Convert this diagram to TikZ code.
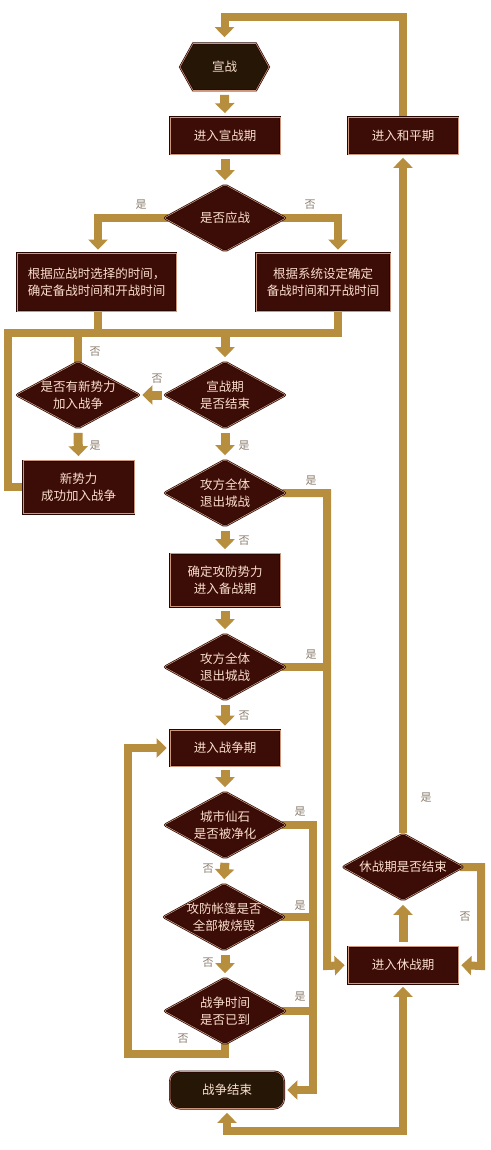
\documentclass[tikz,border=0pt]{standalone}
\usepackage{fontspec}
\newfontfamily\cjk{Noto Sans CJK SC}
\usetikzlibrary{arrows.meta,shapes.geometric,shapes.symbols,backgrounds}
\definecolor{gold}{RGB}{183,142,62}
\definecolor{boxfill}{RGB}{60,12,6}
\definecolor{startfill}{RGB}{38,22,6}
\definecolor{edgelight}{RGB}{205,150,125}
\definecolor{edgedark}{RGB}{40,6,2}
\definecolor{textc}{RGB}{250,222,205}
\definecolor{yesno}{RGB}{140,125,110}
\tikzset{
	box/.style={draw=edgedark, double=edgelight, double distance=0.6pt, line width=0.7pt, fill=boxfill, text=textc, font=\cjk\fontsize{12.5}{17}\selectfont, align=center, inner sep=0pt},
	proc/.style={box, rectangle, minimum width=110pt, minimum height=37pt},
	ask/.style={box, diamond, aspect=1.8, inner sep=-6pt, minimum width=122pt, minimum height=67pt, rounded corners=2pt},
	hexa/.style={box, fill=startfill, signal, signal to=east and west, signal pointer angle=122, minimum width=89pt, minimum height=47pt},
	term/.style={box, fill=startfill, rectangle, rounded corners=10pt, minimum width=114pt, minimum height=37pt},
	lab/.style={text=yesno, font=\cjk\fontsize{11}{11}\selectfont, inner sep=0pt},
	wire/.style={draw=gold, line width=8pt, line cap=rect},
	arrowed/.style={-{Triangle[width=19pt,length=10pt]}},
	jump/.style={wire, arrowed, line width=9pt, line cap=butt, shorten <=4pt, shorten >=4pt}
}
\begin{document}
\begin{tikzpicture}[x=1pt,y=-1pt]
			%%%%% START %%%%%
			\useasboundingbox (0,0) rectangle (490,1150);
			
			% war declaration stage
			\node[hexa] (xz) at (224.5,67) {宣战};
			\node[proc] (jxz) at (225,136) {进入宣战期};
			\node[ask] (ifyz) at (225,218) {是否应战};
			\node[proc, minimum width=159pt, minimum height=58pt] (boxa) at (96.5,282) {根据应战时选择的时间，\\确定备战时间和开战时间};
			\node[proc, minimum width=134pt, minimum height=58pt] (boxb) at (323,282) {根据系统设定确定\\备战时间和开战时间};
			\node[ask] (ifend) at (225,395) {宣战期\\是否结束};
			\node[ask, minimum width=124pt] (ifnew) at (78,395) {是否有新势力\\加入战争};
			\node[proc, minimum width=111pt, minimum height=53pt] (xsl) at (78.5,487) {新势力\\成功加入战争};
			
			% preparation stage
			\node[ask] (quit1) at (225,493) {攻方全体\\退出城战};
			\node[proc, minimum height=53pt] (prep) at (225,580) {确定攻防势力\\进入备战期};
			\node[ask] (quit2) at (225,667) {攻方全体\\退出城战};
			
			% war stage
			\node[proc, minimum height=36pt] (war) at (225,748) {进入战争期};
			\node[ask] (stone) at (225,825) {城市仙石\\是否被净化};
			\node[ask] (tent) at (224,917) {攻防帐篷是否\\全部被烧毁};
			\node[ask] (time) at (225,1011) {战争时间\\是否已到};
			\node[term] (end) at (227,1090) {战争结束};
			
			% truce and peace
			\node[proc] (rest) at (403,965) {进入休战期};
			\node[ask, minimum width=121pt] (truce) at (403,867) {休战期是否结束};
			\node[proc] (peace) at (403,136) {进入和平期};
			
			\coordinate (mj) at (225,333);
			\coordinate (ml) at (8,333);
			\coordinate (qx) at (327,966);
			\coordinate (sx) at (313,1090);
			\coordinate (wl) at (128,1054);
			
			\begin{scope}[on background layer]
			\draw[jump] (xz.south) -- (jxz.north);
			\draw[jump] (jxz.north |- 0,155) -- (ifyz.north);
			\draw[wire, arrowed, shorten >=3pt] (ifyz.west) -| ([xshift=1.5pt]boxa.north);
			\draw[wire, arrowed, shorten >=3pt] (ifyz.east) -| ([xshift=15pt]boxb.north);
			
			\draw[wire] ([xshift=1.5pt]boxa.south) |- (ml);
			\draw[wire] ([xshift=15pt]boxb.south) |- ([xshift=1.5pt]boxa.south |- mj);
			\draw[wire] (xsl.west) -| (ml);
			\draw[wire] (ifnew.north) -- (ifnew.north |- mj);
			\draw[jump, shorten <=0pt] (mj) -- (ifend.north);
			\draw[jump, shorten <=2pt, shorten >=2pt] (ifend.west) -- (ifnew.east);
			\draw[jump] (ifnew.south) -- (xsl.north);
			\draw[jump] (ifend.south) -- (quit1.north);
			
			\draw[jump] (quit1.south) -- (prep.north);
			\draw[jump] (prep.south) -- (quit2.north);
			\draw[jump] (quit2.south) -- (war.north);
			\draw[wire, arrowed, shorten >=3pt] (quit1.east) -| (qx) -- (rest.west);
			\draw[wire] (quit2.east) -- (quit2.east -| qx);
			
			\draw[jump] (war.south) -- (stone.north);
			\draw[jump] (stone.south) -- (tent.north);
			\draw[jump] (tent.south -| time.north) -- (time.north);
			\draw[wire, arrowed, shorten >=3pt] (time.south) |- (wl) |- (war.west);
			\draw[wire, arrowed, shorten >=3pt] (stone.east) -| (sx) -- (end.east);
			\draw[wire] (tent.east) -- (tent.east -| sx);
			\draw[wire] (time.east) -- (time.east -| sx);
			
			\draw[jump] (rest.north) -- (truce.south);
			\draw[wire, arrowed, shorten >=3pt] (truce.east) -| (481,966) -- (rest.east);
			\draw[wire, arrowed, shorten <=4pt, shorten >=3pt] (truce.north) -- (peace.south);
			\draw[wire, arrowed, shorten >=6pt] (peace.north) |- (xz.north |- 0,17) -- (xz.north);
			\draw[wire, {Triangle[width=19pt,length=10pt]}-{Triangle[width=19pt,length=10pt]}, shorten <=4pt, shorten >=3pt] (end.south) |- (rest.south |- 0,1131) -- (rest.south);
			\end{scope}
			
			% yes / no labels
			\node[lab] (y1) at (141,205) {是};
			\node[lab] (n1) at (310,205) {否};
			\node[lab] (n2) at (95,352) {否};
			\node[lab] (n3) at (157,379) {否};
			\node[lab] (y2) at (95,446) {是};
			\node[lab] (y3) at (244,446) {是};
			\node[lab] (y4) at (311,481) {是};
			\node[lab] (n4) at (244,541) {否};
			\node[lab] (y5) at (311,655) {是};
			\node[lab] (n5) at (244,716) {否};
			\node[lab] (y6) at (300,812) {是};
			\node[lab] (n6) at (208,869) {否};
			\node[lab] (y7) at (300,906) {是};
			\node[lab] (n7) at (208,963) {否};
			\node[lab] (y8) at (300,997) {是};
			\node[lab] (n8) at (183,1039) {否};
			\node[lab] (y9) at (426,798) {是};
			\node[lab] (n9) at (465,917) {否};
			
			%%%%% END %%%%%
\end{tikzpicture}
\end{document}
